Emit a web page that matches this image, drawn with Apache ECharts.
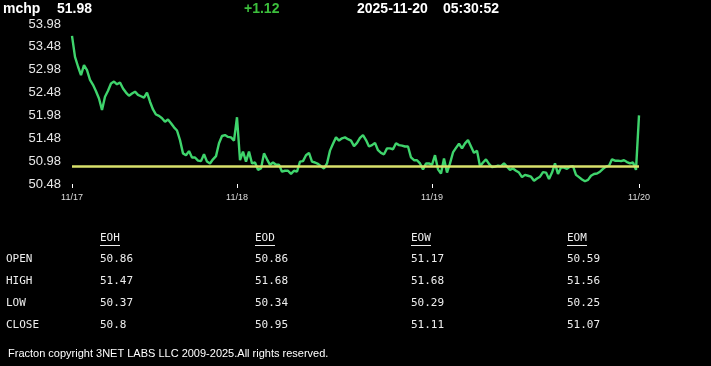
<!DOCTYPE html>
<html>
<head>
<meta charset="utf-8">
<script src="https://cdn.jsdelivr.net/npm/echarts@6/dist/echarts.min.js"></script>
<style>
html,body{margin:0;padding:0;background:#000;}
#c{width:711px;height:366px;}
</style>
</head>
<body>
<div id="c"></div>
<script>
// ---- data ----
const symbol = 'mchp';
const lastPrice = '51.98';
const change = '+1.12';
const quoteDate = '2025-11-20';
const quoteTime = '05:30:52';
const prevClose = 50.86;

const dayLabels = ['11/17', '11/18', '11/19', '11/20'];
const dayStart = [0, 55, 120, 189];
const yTicks = [50.48, 50.98, 51.48, 51.98, 52.48, 52.98, 53.48, 53.98];

const prices = [
53.72,53.26,53.05,52.86,53.08,52.97,52.76,52.65,52.51,52.35,
52.10,52.39,52.52,52.68,52.72,52.66,52.70,52.57,52.48,52.41,
52.46,52.50,52.43,52.40,52.37,52.48,52.28,52.11,52.00,51.97,
51.92,51.84,51.89,51.81,51.72,51.65,51.44,51.15,51.11,51.20,
51.06,51.06,50.99,50.98,51.13,50.97,50.93,51.02,51.09,51.37,
51.53,51.55,51.51,51.50,51.43,51.94,51.00,51.19,50.97,51.19,
50.93,50.95,50.79,50.82,51.15,51.02,50.90,50.95,50.90,50.90,
50.75,50.77,50.77,50.70,50.77,50.75,50.97,50.98,51.11,51.16,
50.97,50.95,50.92,50.87,50.82,50.93,51.21,51.36,51.50,51.43,
51.48,51.50,51.46,51.43,51.31,51.38,51.49,51.55,51.44,51.30,
51.33,51.38,51.22,51.16,51.13,51.26,51.26,51.24,51.37,51.33,
51.32,51.30,51.30,51.06,51.00,51.00,50.93,50.80,50.93,50.93,
50.90,51.11,50.80,50.71,51.04,50.73,50.93,51.17,51.27,51.36,
51.26,51.37,51.44,51.30,51.16,51.21,50.87,50.95,51.02,50.92,
50.85,50.86,50.88,50.87,50.93,50.86,50.79,50.82,50.77,50.73,
50.63,50.68,50.66,50.64,50.55,50.60,50.64,50.74,50.73,50.59,
50.73,50.93,50.70,50.84,50.84,50.81,50.86,50.87,50.68,50.63,
50.58,50.54,50.57,50.66,50.70,50.71,50.75,50.81,50.86,50.88,
51.02,50.99,50.99,50.98,51.00,50.96,50.93,50.95,50.79,51.98
];

const tableCols = ['EOH', 'EOD', 'EOW', 'EOM'];
const rowLabels = ['OPEN', 'HIGH', 'LOW', 'CLOSE'];
const openVals  = [50.86, 50.86, 51.17, 50.59];
const highVals  = [51.47, 51.68, 51.68, 51.56];
const lowVals   = [50.37, 50.34, 50.29, 50.25];
const closeVals = [50.8, 50.95, 51.11, 51.07];
const footer = 'Fracton copyright 3NET LABS LLC 2009-2025.All rights reserved.';

// ---- build ----
const categories = prices.map((_, i) => {
  const k = dayStart.indexOf(i);
  return k >= 0 ? dayLabels[k] : String(i);
});
const isDay = (i) => dayStart.indexOf(i) >= 0;

const sans = '"Liberation Sans", Arial, sans-serif';
const mono = '"DejaVu Sans Mono", monospace';

const graphic = [];
function txt(x, y, text, font, fill) {
  graphic.push({type: 'text', x: x, y: y, silent: true,
    style: {text: text, font: font, fill: fill, textAlign: 'left', textVerticalAlign: 'middle'}});
}
txt(3, 9, symbol, 'bold 14px ' + sans, '#fff');
txt(57, 9, lastPrice, 'bold 14px ' + sans, '#fff');
txt(244, 9, change, 'bold 14px ' + sans, '#3cbf3c');
txt(357, 9, quoteDate, 'bold 14px ' + sans, '#fff');
txt(443, 9, quoteTime, 'bold 14px ' + sans, '#fff');

const colX = [100, 255, 411, 567];
const rowY = [259, 281, 303, 325];
const rows = [openVals, highVals, lowVals, closeVals];
tableCols.forEach((h, c) => {
  txt(colX[c], 238, h, '11px ' + mono, '#eee');
  graphic.push({type: 'line', silent: true,
    shape: {x1: colX[c], y1: 245.5, x2: colX[c] + 20, y2: 245.5},
    style: {stroke: '#eee', lineWidth: 1}});
});
rowLabels.forEach((r, k) => {
  txt(6, rowY[k], r, '11px ' + mono, '#eee');
  rows[k].forEach((v, c) => txt(colX[c], rowY[k], String(v), '11px ' + mono, '#eee'));
});
txt(8, 354, footer, '11px ' + sans, '#fff');

const chart = echarts.init(document.getElementById('c'), null, {renderer: 'canvas'});
chart.setOption({
  backgroundColor: '#000',
  animation: false,
  grid: {left: 72, right: 72, top: 24, bottom: 182},
  xAxis: {
    type: 'category', data: categories, boundaryGap: false,
    axisLine: {show: false},
    axisTick: {show: true, interval: isDay, length: 4, lineStyle: {color: '#fff', width: 1}},
    axisLabel: {interval: isDay, color: '#ddd', fontSize: 9, fontFamily: sans, margin: 9,
      showMinLabel: true, showMaxLabel: true, hideOverlap: false},
    splitLine: {show: false}
  },
  yAxis: {
    type: 'value', min: 50.48, max: 53.98,
    axisLine: {show: false}, axisTick: {show: false}, splitLine: {show: false},
    axisLabel: {customValues: yTicks, color: '#e8e8e8', fontSize: 13, fontFamily: sans, margin: 11,
      formatter: (v) => Number(v).toFixed(2)}
  },
  series: [{
    type: 'line', data: prices, showSymbol: false, symbol: 'none',
    lineStyle: {color: '#3fd46c', width: 2.4},
    markLine: {silent: true, symbol: 'none', label: {show: false},
      lineStyle: {color: '#d9e16b', width: 2.5, type: 'solid'},
      data: [{yAxis: prevClose}]}
  }],
  graphic: graphic
});
</script>
</body>
</html>
